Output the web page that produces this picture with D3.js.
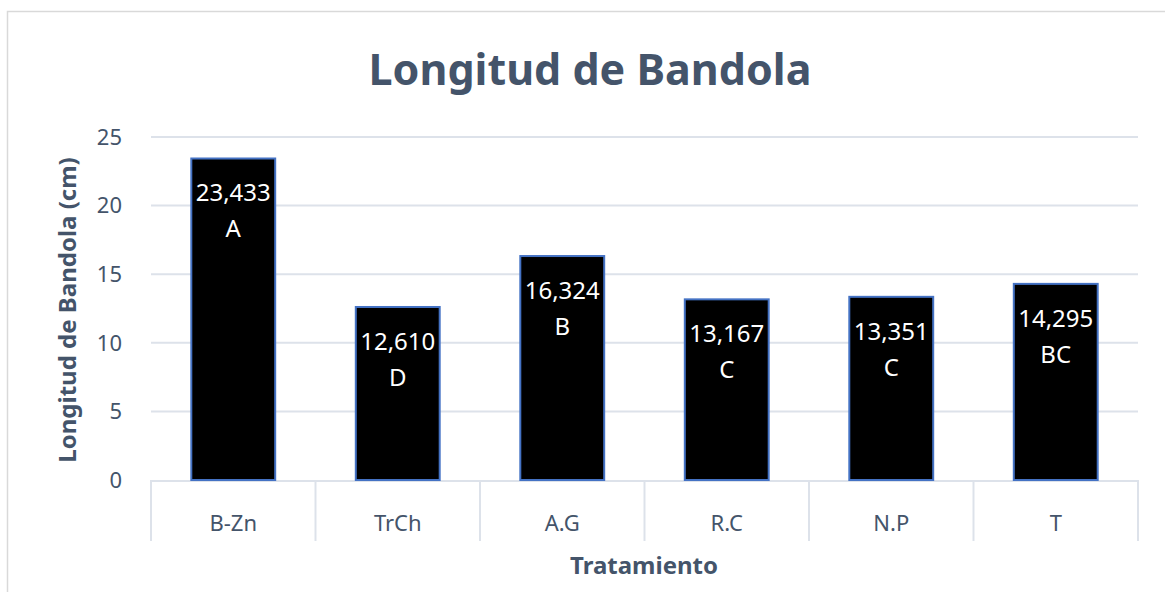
<!DOCTYPE html>
<html>
<head>
<meta charset="utf-8">
<script src="https://cdn.jsdelivr.net/npm/d3@7"></script>
<style>
  body { margin: 0; background: #fff; }
  text { font-family: "Noto Sans", "Open Sans", sans-serif; }
</style>
</head>
<body>
<script>
// chart data
const categories = ["B-Zn", "TrCh", "A.G", "R.C", "N.P", "T"]
const values = [23.433, 12.610, 16.324, 13.167, 13.351, 14.295]
const valueLabels = ["23,433", "12,610", "16,324", "13,167", "13,351", "14,295"]
const groups = ["A", "D", "B", "C", "C", "BC"]
const yTicks = [0, 5, 10, 15, 20, 25]

const width = 1165, height = 592
const plotLeft = 151, plotRight = 1138, plotTop = 137, plotBottom = 480
const textColor = "#44546A"

let svg = d3.select("body").append("svg")
    .attr("width", width)
    .attr("height", height)

// outer chart border
svg.append("rect")
    .attr("x", 7.5).attr("y", 11.5)
    .attr("width", 1170).attr("height", 600)
    .attr("fill", "none")
    .attr("stroke", "#D9D9D9")
    .attr("stroke-width", 1.5)

let x = d3.scaleBand()
    .domain(categories)
    .range([plotLeft, plotRight])
    .paddingInner(0)
    .paddingOuter(0)

let y = d3.scaleLinear()
    .domain([0, 25])
    .range([plotBottom, plotTop])

// gridlines
svg.append("g")
    .selectAll("line")
    .data(yTicks.slice(1))
    .enter()
    .append("line")
    .attr("x1", plotLeft).attr("x2", plotRight)
    .attr("y1", d => y(d)).attr("y2", d => y(d))
    .attr("stroke", "#DDE2EA")
    .attr("stroke-width", 2)

// y tick labels
svg.append("g")
    .selectAll("text")
    .data(yTicks)
    .enter()
    .append("text")
    .attr("x", 122)
    .attr("y", d => y(d))
    .attr("dy", "0.35em")
    .attr("text-anchor", "end")
    .attr("fill", textColor)
    .style("font-size", "22px")
    .text(d => d)

// x axis baseline and category dividers
svg.append("line")
    .attr("x1", plotLeft).attr("x2", plotRight)
    .attr("y1", plotBottom + 1).attr("y2", plotBottom + 1)
    .attr("stroke", "#DDE2EA")
    .attr("stroke-width", 2)

let dividers = categories.map(c => x(c)).concat([plotRight])
svg.append("g")
    .selectAll("line")
    .data(dividers)
    .enter()
    .append("line")
    .attr("x1", d => d).attr("x2", d => d)
    .attr("y1", plotBottom).attr("y2", 541)
    .attr("stroke", "#DDE2EA")
    .attr("stroke-width", 2)

svg.append("g")
    .selectAll("text")
    .data(categories)
    .enter()
    .append("text")
    .attr("x", d => x(d) + x.bandwidth() / 2)
    .attr("y", 531)
    .attr("text-anchor", "middle")
    .attr("fill", textColor)
    .style("font-size", "22px")
    .text(d => d)

// bars
let barW = x.bandwidth() * 0.51
let bars = svg.append("g")
    .selectAll("g")
    .data(categories.map((c, i) => ({ c: c, v: values[i], lab: valueLabels[i], g: groups[i] })))
    .enter()
    .append("g")

bars.append("rect")
    .attr("x", d => x(d.c) + (x.bandwidth() - barW) / 2)
    .attr("y", d => y(d.v))
    .attr("width", barW)
    .attr("height", d => plotBottom - y(d.v))
    .attr("fill", "#000")
    .attr("stroke", "#4472C4")
    .attr("stroke-width", 2)

bars.append("text")
    .attr("x", d => x(d.c) + x.bandwidth() / 2)
    .attr("y", d => y(d.v) + 43)
    .attr("text-anchor", "middle")
    .attr("fill", "#fff")
    .style("font-size", "24px")
    .text(d => d.lab)

bars.append("text")
    .attr("x", d => x(d.c) + x.bandwidth() / 2)
    .attr("y", d => y(d.v) + 79)
    .attr("text-anchor", "middle")
    .attr("fill", "#fff")
    .style("font-size", "24px")
    .text(d => d.g)

// titles
svg.append("text")
    .attr("x", 590)
    .attr("y", 85)
    .attr("text-anchor", "middle")
    .attr("fill", textColor)
    .style("font-size", "43px")
    .style("font-weight", "bold")
    .text("Longitud de Bandola")

svg.append("text")
    .attr("x", 644)
    .attr("y", 574)
    .attr("text-anchor", "middle")
    .attr("fill", textColor)
    .style("font-size", "24px")
    .style("font-weight", "bold")
    .text("Tratamiento")

svg.append("text")
    .attr("transform", "translate(76,310) rotate(-90)")
    .attr("text-anchor", "middle")
    .attr("fill", textColor)
    .style("font-size", "24px")
    .style("font-weight", "bold")
    .text("Longitud de Bandola (cm)")
</script>
</body>
</html>
